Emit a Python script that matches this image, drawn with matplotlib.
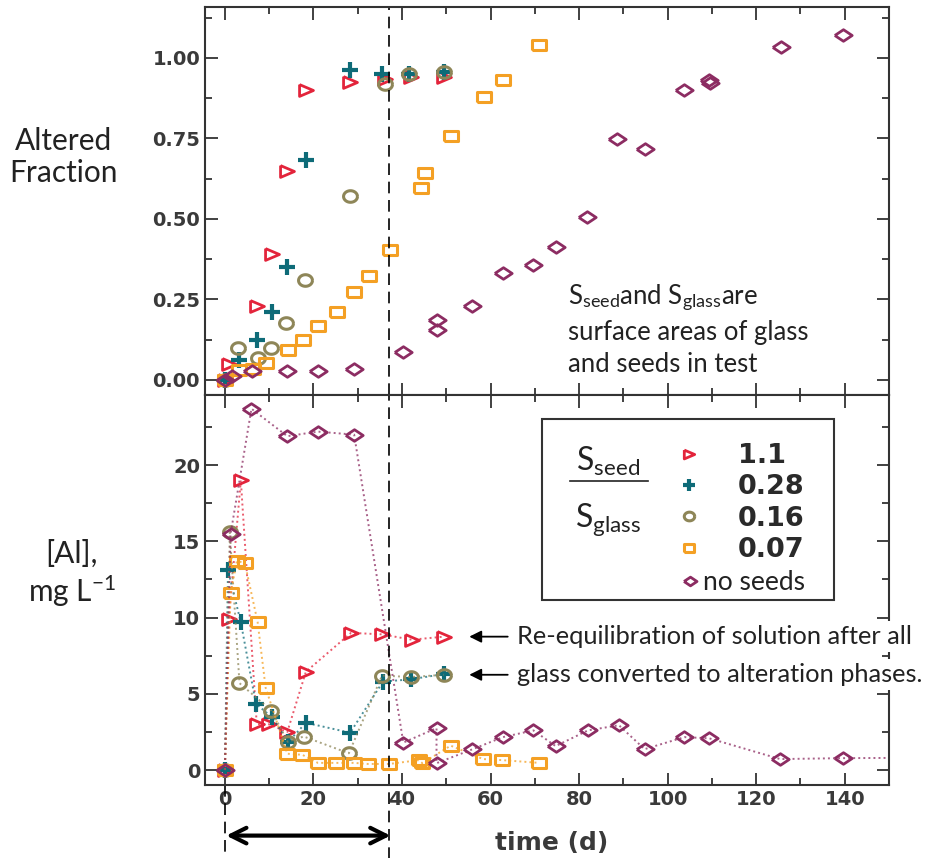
import numpy as np
import matplotlib
matplotlib.use("Agg")
import matplotlib.pyplot as plt
from matplotlib.lines import Line2D
from matplotlib.patches import Rectangle
from matplotlib.ticker import MultipleLocator

plt.rcParams['mathtext.fontset'] = 'custom'
plt.rcParams['mathtext.rm'] = 'Lato'
plt.rcParams['mathtext.it'] = 'Lato:italic'

# ---- altered fraction (top panel) ----
tf_11 = [0, 1.0, 7.2, 10.6, 14.1, 18.4, 28.3, 36.2, 42.0, 49.5]
fr_11 = [0, 0.05, 0.23, 0.39, 0.65, 0.90, 0.925, 0.935, 0.94, 0.94]
tf_28 = [0, 3.3, 7.2, 10.7, 14.1, 18.4, 28.3, 35.6, 41.5, 49.5]
fr_28 = [0, 0.062, 0.124, 0.21, 0.35, 0.683, 0.963, 0.95, 0.95, 0.957]
tf_16 = [0, 3.0, 7.4, 10.4, 13.9, 18.2, 28.3, 36.2, 41.5, 49.5]
fr_16 = [0, 0.10, 0.068, 0.10, 0.178, 0.31, 0.57, 0.92, 0.95, 0.955]
tf_07 = [0, 3.1, 6.3, 9.3, 14.2, 17.7, 21.0, 25.3, 29.2, 32.5, 37.2, 44.2, 45.3,
         51.1, 58.5, 62.8, 71.0]
fr_07 = [0, 0.03, 0.035, 0.052, 0.094, 0.124, 0.166, 0.21, 0.273, 0.322, 0.404,
         0.596, 0.642, 0.757, 0.88, 0.93, 1.04]
tf_ns = [0, 1.5, 6.2, 14.1, 21.0, 29.2, 40.2, 48.0, 48.0, 55.8, 62.8, 69.7, 74.7,
         81.8, 88.6, 94.8, 103.8, 109.4, 109.6, 125.6, 139.5]
fr_ns = [0, 0.012, 0.027, 0.027, 0.027, 0.034, 0.086, 0.155, 0.186, 0.23, 0.332,
         0.357, 0.413, 0.506, 0.748, 0.717, 0.90, 0.93, 0.922, 1.034, 1.07]

# ---- dissolved Al, mg/L (bottom panel) ----
ta_11 = [0, 0.9, 3.6, 7.2, 9.9, 14.1, 18.3, 28.5, 35.5, 42.2, 49.5]
al_11 = [0, 9.9, 19.0, 3.0, 3.0, 2.5, 6.45, 9.0, 8.9, 8.55, 8.75]
ta_28 = [0, 0.7, 3.6, 7.0, 10.7, 14.3, 18.3, 28.3, 35.7, 42.0, 49.5]
al_28 = [0, 13.1, 9.7, 4.35, 3.45, 1.85, 3.1, 2.45, 5.8, 5.95, 6.3]
ta_16 = [0, 1.1, 3.3, 10.5, 14.2, 17.8, 28.0, 35.5, 42.0, 49.5]
al_16 = [0, 15.6, 5.7, 3.9, 1.85, 2.2, 1.1, 6.2, 6.1, 6.25]
ta_07 = [0, 1.3, 2.7, 4.5, 7.4, 9.2, 14.1, 17.5, 21.0, 25.2, 29.2, 32.3, 37.1,
         43.8, 44.6, 51.0, 58.3, 62.7, 71.0]
al_07 = [0, 11.6, 13.7, 13.6, 9.7, 5.4, 1.07, 1.0, 0.47, 0.47, 0.47, 0.4, 0.4,
         0.65, 0.45, 1.6, 0.72, 0.65, 0.47]
ta_ns = [0, 1.3, 6.0, 14.1, 21.0, 29.2, 40.3, 47.8, 47.8, 55.9, 62.8, 69.7, 74.7,
         82.0, 89.0, 94.8, 103.8, 109.4, 125.4, 139.5, 154.0]
al_ns = [0, 15.5, 23.7, 21.9, 22.2, 22.0, 1.8, 2.75, 0.45, 1.36, 2.16, 2.6, 1.57,
         2.6, 2.94, 1.37, 2.16, 2.08, 0.72, 0.78, 0.8]

labels = ['1.1', '0.28', '0.16', '0.07', 'no seeds']
colors = ['#e3243b', '#0e6b78', '#8e8658', '#f4a024', '#8c2c62']

# slightly wide marker shapes
th = np.linspace(0, 2 * np.pi, 41)
m_tri = [(-1, 0.85), (1, 0), (-1, -0.85), (-1, 0.85)]
m_ell = list(zip(1.2 * np.cos(th), np.sin(th)))
m_sq = [(-1.25, -1), (1.25, -1), (1.25, 1), (-1.25, 1), (-1.25, -1)]
m_dia = [(-1.35, 0), (0, 0.9), (1.35, 0), (0, -0.9), (-1.35, 0)]
markers = [m_tri, '+', m_ell, m_sq, m_dia]
msizes = [10, 11, 10, 9.5, 12.5]
mews = [2.0, 3.0, 2.2, 2.2, 2.0]

frac = [(tf_11, fr_11), (tf_28, fr_28), (tf_16, fr_16), (tf_07, fr_07), (tf_ns, fr_ns)]
alum = [(ta_11, al_11), (ta_28, al_28), (ta_16, al_16), (ta_07, al_07), (ta_ns, al_ns)]

fig = plt.figure(figsize=(9.27, 8.58), dpi=100)
ax1 = fig.add_axes([0.2211, 0.5396, 0.7379, 0.4522])
ax2 = fig.add_axes([0.2211, 0.0851, 0.7379, 0.4545])

tick_col = '#3a3a3a'
for ax in (ax1, ax2):
    ax.set_xlim(-4.5, 150)
    ax.xaxis.set_major_locator(MultipleLocator(20))
    ax.xaxis.set_minor_locator(MultipleLocator(10))
    ax.tick_params(which='both', direction='in', top=True, right=True,
                   width=1.3, color='#333333', labelsize=14, labelcolor=tick_col)
    ax.tick_params(which='major', length=9)
    ax.tick_params(which='minor', length=5)
    for s in ax.spines.values():
        s.set_linewidth(1.5)
        s.set_color('#333333')

ax1.set_ylim(-0.047, 1.158)
ax1.yaxis.set_major_locator(MultipleLocator(0.25))
ax1.yaxis.set_minor_locator(MultipleLocator(0.125))
ax1.set_yticks([0, 0.25, 0.5, 0.75, 1.0])
ax1.set_yticklabels(['0.00', '0.25', '0.50', '0.75', '1.00'])
ax1.tick_params(labelbottom=False)

ax2.set_ylim(-0.98, 24.6)
ax2.yaxis.set_major_locator(MultipleLocator(5))
ax2.yaxis.set_minor_locator(MultipleLocator(2.5))

for ax in (ax1, ax2):
    for lbl in ax.get_xticklabels() + ax.get_yticklabels():
        lbl.set_fontweight('bold')

for (t, f), (ta, al), c, m, ms, mw in zip(frac, alum, colors, markers, msizes, mews):
    ax1.plot(t, f, ls='none', marker=m, ms=ms, mfc='none', mec=c, mew=mw)
    ax2.plot(ta, al, ls=(0, (1, 1.6)), lw=1.4, color=c, alpha=0.75)
    ax2.plot(ta, al, ls='none', marker=m, ms=ms, mfc='none', mec=c, mew=mw)

# end of glass alteration in the seeded tests
t_end = 37
ax1.axvline(t_end, color='black', lw=1.2, dashes=(7, 4))
ax2.plot([t_end, t_end], [-5.9, 24.6], color='black', lw=1.2, dashes=(7, 4), clip_on=False)
ax2.plot([0, 0], [-0.98, -5.9], color='black', lw=1.2, dashes=(7, 4), clip_on=False)
ax2.annotate('', xy=(0.3, -4.3), xytext=(t_end + 0.4, -4.3), annotation_clip=False,
             arrowprops=dict(arrowstyle='<->', lw=3, color='black', mutation_scale=28,
                             shrinkA=0, shrinkB=0))

fig.text(552 / 927, 1 - 843 / 858, 'time (d)', ha='center', va='center',
         fontsize=18, fontweight='bold', color=tick_col)

fig.text(64 / 927, 1 - 157 / 858, 'Altered\nFraction', ha='center', va='center',
         family='Lato', fontsize=21.5, color='#222222', linespacing=1.15)
fig.text(72 / 927, 1 - 574 / 858, '[Al],\nmg L$^{-1}$', ha='center', va='center',
         family='Lato', fontsize=21.5, color='#222222', linespacing=1.2)

ax1.text(0.531, 0.29,
         'S$_{\\mathrm{seed}}$and S$_{\\mathrm{glass}}$are\nsurface areas of glass\nand seeds in test',
         transform=ax1.transAxes, ha='left', va='top', family='Lato', fontsize=18.5,
         color='#222222', linespacing=1.35)

# key box
ax2.add_patch(Rectangle((0.493, 0.474), 0.427, 0.464, transform=ax2.transAxes,
                        facecolor='white', edgecolor='#333333', lw=1.5, zorder=5))
ax2.text(0.589, 0.83, 'S$_{\\mathrm{seed}}$', transform=ax2.transAxes, ha='center',
         va='center', family='Lato', fontsize=23, color='#222222', zorder=6)
ax2.text(0.589, 0.68, 'S$_{\\mathrm{glass}}$', transform=ax2.transAxes, ha='center',
         va='center', family='Lato', fontsize=23, color='#222222', zorder=6)
ax2.plot([0.534, 0.648], [0.779, 0.779], transform=ax2.transAxes, color='#222222',
         lw=1.2, zorder=6)

handles = [Line2D([], [], ls='none', marker=m, ms=ms * 0.75, mfc='none', mec=c, mew=mw)
           for c, m, ms, mw in zip(colors, markers, msizes, mews)]
leg1 = ax2.legend(handles[:4], labels[:4], loc='upper left', bbox_to_anchor=(0.6915, 0.877),
                  frameon=False, handlelength=0.85, handletextpad=1.35, labelspacing=0.2,
                  borderpad=0, borderaxespad=0,
                  prop=dict(family='DejaVu Sans', weight='bold', size=19.5))
for txt in leg1.get_texts():
    txt.set_color('#2a2a2a')
leg1.set_zorder(7)
ax2.add_artist(leg1)
leg2 = ax2.legend(handles[4:], labels[4:], loc='center left', bbox_to_anchor=(0.699, 0.518),
                  frameon=False, handlelength=0.55, handletextpad=0.2, borderpad=0,
                  borderaxespad=0, prop=dict(family='Lato', size=19))
leg2.get_texts()[0].set_color('#222222')
leg2.set_zorder(7)

note_kw = dict(xycoords='data', textcoords='data', va='center', ha='left',
               family='Lato', fontsize=18.3, color='#222222', zorder=10,
               annotation_clip=False,
               bbox=dict(boxstyle='square,pad=0.15', fc='white', ec='none'),
               arrowprops=dict(arrowstyle='-|>', color='black', lw=1.3,
                               mutation_scale=18, shrinkA=4, shrinkB=0))
ax2.annotate('Re-equilibration of solution after all', xy=(55.2, 8.75),
             xytext=(66, 8.75), **note_kw)
ax2.annotate('glass converted to alteration phases.', xy=(55.2, 6.25),
             xytext=(66, 6.25), **note_kw)

fig.savefig('out.png', dpi=100)
